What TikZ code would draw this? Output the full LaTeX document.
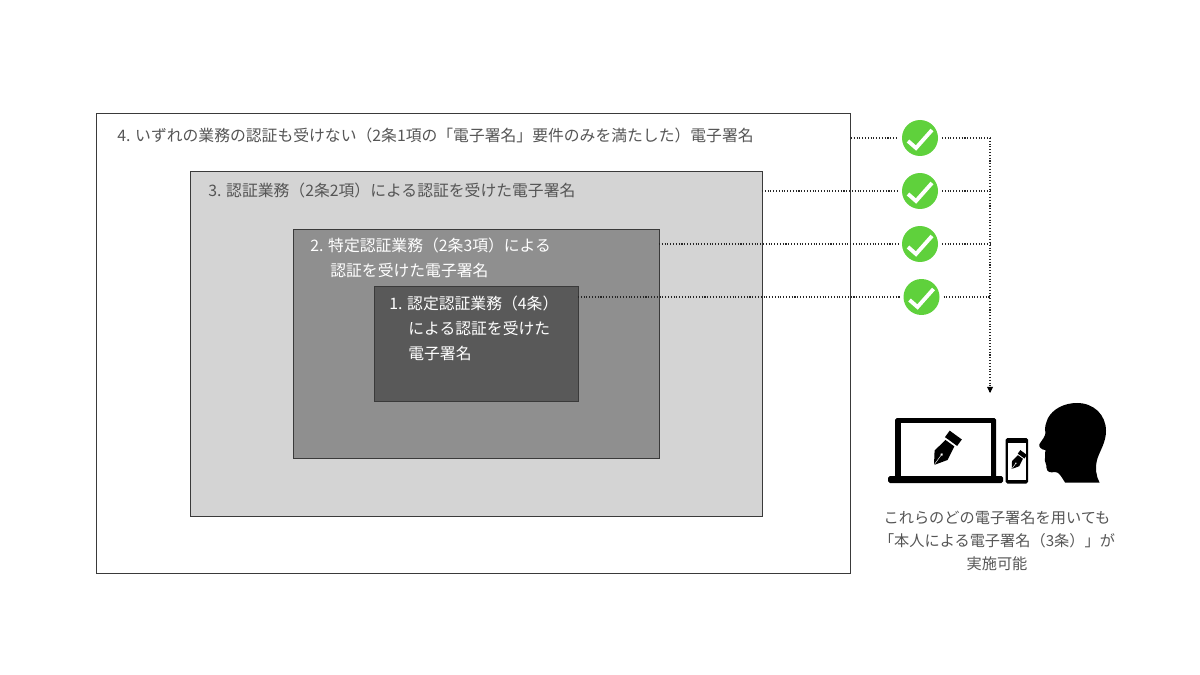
\documentclass[tikz,border=0pt]{standalone}
\usepackage{fontspec}
\setmainfont{Noto Sans CJK JP}
\usepackage{xcolor}
\usetikzlibrary{arrows.meta}
\definecolor{boxline}{HTML}{3A3A3A}
\definecolor{labelgray}{HTML}{555555}
\definecolor{okgreen}{HTML}{5FD13C}

\begin{document}
\begin{tikzpicture}[x=0.02cm, y=-0.02cm,
    certbox/.style={draw=boxline, line width=0.5pt, inner sep=0pt, outer sep=0pt},
    boxlabel/.style={anchor=west, align=left, inner sep=0pt, text=labelgray, font=\fontsize{9}{14.2}\selectfont},
    caplabel/.style={inner sep=0pt, text=labelgray, font=\fontsize{8.65}{14.2}\selectfont},
    chkmark/.style={circle, fill=okgreen, minimum size=0.72cm, inner sep=0pt, outer sep=0.08cm},
    tick/.style={draw=white, line width=2.2pt},
    dotline/.style={draw=black!85, line width=0.6pt, densely dotted},
    pen/.pic={
      \fill[black] (0,0) -- (12,8) -- (27,5.5) -- (27,-5.5) -- (12,-8) -- cycle;
      \fill[black] (29,-7.5) rectangle (37,7.5);
      \draw[white, line width=0.25pt] (0,0) -- (13,0);
      \fill[white] (13,0) circle (1.4);
    }]
  \useasboundingbox (0,0) rectangle (1200,675);

  % nested boxes
  \node[certbox, fill=white, minimum width=15.1cm, minimum height=9.2cm] (box4) at (473.5,343.8) {};
  \node[certbox, fill=black!17, minimum width=11.44cm, minimum height=6.9cm] (box3) at (476,343.5) {};
  \node[certbox, fill=black!44, minimum width=7.32cm, minimum height=4.58cm] (box2) at (476,343.5) {};
  \node[certbox, fill=black!65, minimum width=4.08cm, minimum height=2.3cm] (box1) at (476,343.5) {};

  \node[boxlabel] (lab4) at (117,135) {4. いずれの業務の認証も受けない（2条1項の「電子署名」要件のみを満たした）電子署名};
  \node[boxlabel] (lab3) at (208,190) {3. 認証業務（2条2項）による認証を受けた電子署名};
  \node[boxlabel, text=white] (lab2) at (310,257.5) {2. 特定認証業務（2条3項）による\\\hspace{0.4cm}認証を受けた電子署名};
  \node[boxlabel, text=white] (lab1) at (389,328) {1. 認定認証業務（4条）\\\hspace{0.38cm}による認証を受けた\\\hspace{0.38cm}電子署名};

  % check marks
  \node[chkmark] (chk4) at (920,138) {};
  \node[chkmark] (chk3) at (920,191) {};
  \node[chkmark] (chk2) at (920,244) {};
  \node[chkmark] (chk1) at (921.5,297) {};
  \foreach \n in {chk1,chk2,chk3,chk4}
    \draw[tick] ([shift={(-12,3)}]\n.center) -- ([shift={(-4,10)}]\n.center) -- ([shift={(12,-8)}]\n.center);

  % connectors
  \coordinate (join) at (990,138);
  \coordinate (joinend) at (990,393);
  \foreach \i in {1,2,3,4} {
    \draw[dotline] (box\i.east |- chk\i) -- (chk\i.west);
    \draw[dotline] (chk\i.east) -- (join |- chk\i);
  }
  \draw[dotline] (join) -- (joinend);
  \fill[black] (joinend) -- ++(-3,-6) -- ++(6,0) -- cycle;

  % laptop
  \fill[black, rounded corners=1pt] (895,418) rectangle (996,478);
  \fill[white] (901,423) rectangle (991,476);
  \fill[black, rounded corners=1pt] (888,476) rectangle (1003,483);
  \pic[rotate=54] at (934,465) {pen};

  % phone
  \fill[black, rounded corners=1pt] (1005.5,438) rectangle (1028,483.5);
  \fill[white] (1007.5,443) rectangle (1026,480);
  \pic[rotate=54, scale=0.55] at (1011.7,469) {pen};

  % head
  \fill[black] (1065,482.5) .. controls (1061,476) and (1059,472) .. (1055,472)
    .. controls (1050,473) and (1047,472) .. (1046.5,468)
    .. controls (1047,464) and (1044,462) .. (1045,458)
    .. controls (1044,455) and (1046,452) .. (1045.5,450)
    .. controls (1042,450) and (1038,447) .. (1039.5,444)
    .. controls (1042,440) and (1045,437) .. (1045.5,433)
    .. controls (1044,428) and (1046,423) .. (1048,418)
    .. controls (1053,409) and (1064,403) .. (1077,403)
    .. controls (1094,403) and (1106,415) .. (1106,431)
    .. controls (1106,443) and (1099,452) .. (1097,460)
    .. controls (1095,468) and (1096,476) .. (1099.5,482.5) -- cycle;

  % caption
  \node[caplabel] (cap1) at (997,518) {これらのどの電子署名を用いても};
  \node[caplabel] (cap2) at (997,541) {「本人による電子署名（3条）」が};
  \node[caplabel] (cap3) at (997,564) {実施可能};
\end{tikzpicture}
\end{document}
